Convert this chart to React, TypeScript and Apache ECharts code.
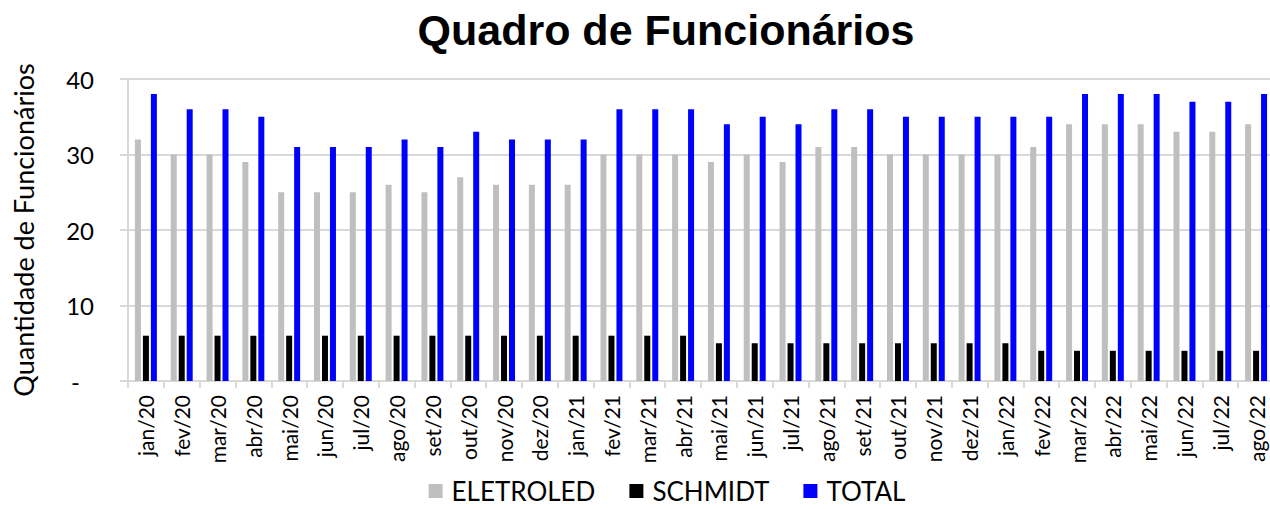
import React, { useEffect, useRef } from "react";
import * as echarts from "echarts";

const categories = [
  "jan/20", "fev/20", "mar/20", "abr/20", "mai/20", "jun/20", "jul/20", "ago/20",
  "set/20", "out/20", "nov/20", "dez/20", "jan/21", "fev/21", "mar/21", "abr/21",
  "mai/21", "jun/21", "jul/21", "ago/21", "set/21", "out/21", "nov/21", "dez/21",
  "jan/22", "fev/22", "mar/22", "abr/22", "mai/22", "jun/22", "jul/22", "ago/22",
];

const eletroled = [
  32, 30, 30, 29, 25, 25, 25, 26, 25, 27, 26, 26, 26, 30, 30, 30,
  29, 30, 29, 31, 31, 30, 30, 30, 30, 31, 34, 34, 34, 33, 33, 34,
];

const schmidt = [
  6, 6, 6, 6, 6, 6, 6, 6, 6, 6, 6, 6, 6, 6, 6, 6,
  5, 5, 5, 5, 5, 5, 5, 5, 5, 4, 4, 4, 4, 4, 4, 4,
];

const total = [
  38, 36, 36, 35, 31, 31, 31, 32, 31, 33, 32, 32, 32, 36, 36, 36,
  34, 35, 34, 36, 36, 35, 35, 35, 35, 35, 38, 38, 38, 37, 37, 38,
];

const yTicks = [0, 10, 20, 30, 40];

const FONT = "Lato";

export default function App() {
  const ref = useRef<HTMLDivElement>(null);

  useEffect(() => {
    if (!ref.current) return;
    const chart = echarts.init(ref.current, undefined, { renderer: "svg" });
    const barBase = { type: "bar" as const, barWidth: 6, barGap: "33%" };
    chart.setOption({
      animation: false,
      title: {
        text: "Quadro de Funcionários",
        left: 661,
        textAlign: "center",
        top: 3,
        textStyle: {
          fontFamily: "Liberation Sans",
          fontWeight: "bold",
          fontSize: 43,
          color: "#000",
        },
      },
      legend: {
        bottom: 0,
        left: "center",
        itemWidth: 14,
        itemHeight: 14,
        itemGap: 34,
        icon: "rect",
        textStyle: {
          fontFamily: FONT,
          fontSize: 26,
          lineHeight: 16,
          color: "#000",
          padding: [0, 0, 0, 4],
        },
        data: ["ELETROLED", "SCHMIDT", "TOTAL"],
      },
      grid: { left: 128, right: 60, top: 79, bottom: 128 },
      xAxis: {
        type: "category",
        data: categories,
        axisLine: { lineStyle: { color: "#d9d9d9", width: 2 } },
        axisTick: { show: true, length: 7, lineStyle: { color: "#d9d9d9", width: 2 } },
        axisLabel: {
          rotate: 90,
          margin: 14,
          fontFamily: FONT,
          fontSize: 21,
          lineHeight: 18,
          color: "#000",
          interval: 0,
        },
      },
      yAxis: {
        type: "value",
        min: yTicks[0],
        max: yTicks[yTicks.length - 1],
        interval: 10,
        name: "Quantidade de Funcionários",
        nameLocation: "middle",
        nameGap: 91,
        nameTextStyle: { fontFamily: FONT, fontSize: 27, color: "#000" },
        axisLine: { show: true, lineStyle: { color: "#d9d9d9", width: 2 } },
        axisTick: { show: true, length: 8, lineStyle: { color: "#d9d9d9", width: 2 } },
        splitLine: { show: true, lineStyle: { color: "#d9d9d9", width: 2 } },
        axisLabel: {
          margin: 34,
          fontFamily: FONT,
          fontSize: 24,
          color: "#000",
          formatter: (v: number) => (v === 0 ? "{d|-}" : String(v)),
          rich: { d: { fontFamily: FONT, fontSize: 24, color: "#000", padding: [0, 14, 0, 0] } },
        },
      },
      series: [
        { ...barBase, name: "ELETROLED", data: eletroled, itemStyle: { color: "#bfbfbf" } },
        { ...barBase, name: "SCHMIDT", data: schmidt, itemStyle: { color: "#000000" } },
        { ...barBase, name: "TOTAL", data: total, itemStyle: { color: "#0000ff" } },
      ],
    });
    return () => chart.dispose();
  }, []);

  return (
    <div
      style={{
        position: "fixed",
        left: 0,
        top: 0,
        width: 1270,
        height: 509,
        overflow: "hidden",
        background: "#fff",
      }}
    >
      <div ref={ref} style={{ width: 1334, height: 509 }} />
    </div>
  );
}
